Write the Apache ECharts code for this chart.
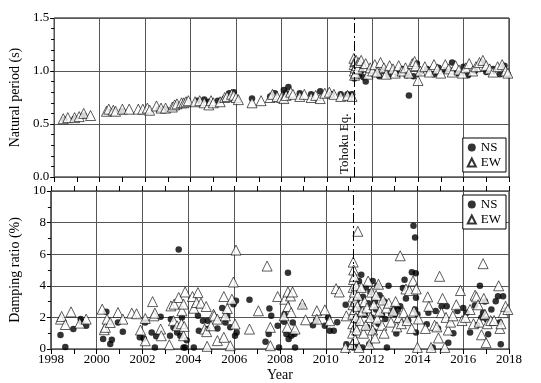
<!DOCTYPE html>
<html>
<head>
<meta charset="utf-8">
<script src="https://cdn.jsdelivr.net/npm/echarts@6/dist/echarts.min.js"></script>
<style>
  html, body { margin: 0; padding: 0; background: #fff; }
  #chart { width: 541px; height: 383px; }
</style>
</head>
<body>
<div id="chart"></div>
<script>
// x axis years and the earthquake marker
var yearTicks = [1998, 2000, 2002, 2004, 2006, 2008, 2010, 2012, 2014, 2016, 2018];
var quakeYear = 2011.2;

// natural period (s), NS direction [year, value]
var nsPeriod = [
  [1998.45,0.54],[1998.9,0.55],[1999.3,0.58],[2000.4,0.61],[2000.6,0.62],[2001.0,0.62],
  [2002.6,0.64],[2002.9,0.64],[2003.4,0.68],[2003.7,0.69],[2004.3,0.72],[2004.6,0.73],
  [2004.8,0.71],[2005.2,0.72],[2005.5,0.74],[2005.7,0.79],[2005.9,0.80],[2006.0,0.74],
  [2006.7,0.74],[2007.5,0.76],[2007.7,0.79],[2008.1,0.82],[2008.2,0.79],[2008.3,0.85],
  [2008.8,0.79],[2009.3,0.78],[2009.7,0.81],[2010.2,0.78],[2010.6,0.78],[2010.9,0.78],
  [2011.1,0.78],
  [2011.2,0.93],[2011.2,1.02],[2011.22,1.06],[2011.25,0.97],[2011.28,1.08],[2011.3,0.99],
  [2011.35,1.03],[2011.4,0.96],[2011.5,1.0],[2011.6,0.94],[2011.7,0.90],[2011.9,1.02],
  [2012.1,0.98],[2012.3,0.95],[2012.5,1.0],[2012.7,0.96],[2012.9,1.01],[2013.1,0.97],
  [2013.3,1.02],[2013.5,0.96],[2013.6,0.77],[2013.8,0.95],[2013.95,1.07],[2014.1,0.99],
  [2014.4,1.02],[2014.7,0.97],[2014.9,1.03],[2015.2,1.01],[2015.5,1.08],[2015.7,0.98],
  [2016.0,1.04],[2016.2,0.96],[2016.5,1.0],[2016.8,1.08],[2017.0,0.99],[2017.3,1.02],
  [2017.6,0.97],[2017.8,1.05],[2017.95,0.97]
];

// natural period (s), EW direction
var ewPeriod = [
  [1998.4,0.55],[1998.6,0.56],[1998.9,0.56],[1999.1,0.57],[1999.3,0.60],[1999.6,0.58],
  [2000.3,0.62],[2000.4,0.64],[2000.6,0.63],[2000.7,0.62],[2001.0,0.64],[2001.3,0.64],
  [2001.7,0.64],[2001.9,0.64],[2002.1,0.65],[2002.2,0.63],[2002.5,0.67],[2002.7,0.65],
  [2002.9,0.65],[2003.2,0.66],[2003.3,0.68],[2003.4,0.69],[2003.6,0.70],[2003.7,0.70],
  [2003.8,0.71],[2003.9,0.72],[2004.2,0.71],[2004.4,0.72],[2004.6,0.70],[2004.8,0.68],
  [2004.9,0.72],[2005.0,0.70],[2005.3,0.71],[2005.5,0.75],[2005.6,0.76],[2005.8,0.78],
  [2005.9,0.77],[2006.0,0.75],[2006.1,0.73],[2006.7,0.70],[2007.1,0.72],[2007.5,0.75],
  [2007.6,0.78],[2007.8,0.76],[2008.0,0.75],[2008.1,0.74],[2008.2,0.77],[2008.4,0.80],
  [2008.5,0.78],[2008.8,0.76],[2009.0,0.78],[2009.3,0.75],[2009.5,0.77],[2009.7,0.74],
  [2009.9,0.79],[2010.1,0.80],[2010.3,0.78],[2010.6,0.76],[2010.9,0.77],[2011.1,0.76],
  [2011.18,1.12],[2011.19,1.06],[2011.2,1.0],[2011.21,0.96],[2011.22,1.09],[2011.24,1.03],
  [2011.26,0.98],[2011.28,1.10],[2011.3,1.05],[2011.35,1.02],[2011.4,1.08],[2011.5,1.10],
  [2011.6,1.04],[2011.7,1.07],[2011.8,0.97],[2011.9,1.03],[2012.0,1.0],[2012.1,1.06],
  [2012.2,0.99],[2012.35,1.08],[2012.5,1.03],[2012.6,0.97],[2012.75,1.05],[2012.9,1.02],
  [2013.0,0.98],[2013.15,1.05],[2013.3,1.0],[2013.45,1.03],[2013.6,0.98],[2013.75,1.07],
  [2013.85,1.09],[2013.9,1.05],[2014.0,0.91],[2014.1,1.0],[2014.3,1.04],[2014.5,0.99],
  [2014.7,1.06],[2014.85,1.02],[2015.0,0.98],[2015.2,1.06],[2015.35,1.02],[2015.5,0.99],
  [2015.65,1.05],[2015.8,1.01],[2015.95,0.98],[2016.1,1.03],[2016.25,1.07],[2016.4,1.0],
  [2016.55,1.04],[2016.7,1.08],[2016.85,1.10],[2017.0,1.05],[2017.15,1.02],[2017.3,0.99],
  [2017.5,1.04],[2017.7,1.06],[2017.85,1.0],[2017.95,0.98]
];

// damping ratio (%), NS direction
var nsDamp = [
  [1998.42,0.88],[1998.63,0.12],[1998.98,1.26],[1999.3,1.9],[1999.33,1.72],[1999.54,1.47],
  [2000.28,0.63],[2000.42,2.35],[2000.59,0.32],[2000.66,0.59],[2000.93,1.68],[2001.14,1.09],
  [2001.88,0.74],[2002.05,0.67],[2002.12,1.68],[2002.4,1.05],[2002.54,0.1],[2002.6,0.8],
  [2002.79,2.04],[2003.2,0.84],[2003.24,1.89],[2003.35,1.37],[2003.51,1.05],[2003.58,6.3],
  [2003.65,0.84],[2003.72,2.0],[2003.79,0.1],[2003.86,0.1],[2003.93,0.55],[2004.24,0.1],
  [2004.42,2.1],[2004.46,1.15],[2004.64,1.79],[2004.82,1.26],[2004.85,1.79],[2005.27,1.3],
  [2005.48,2.6],[2005.62,1.68],[2005.7,2.1],[2005.83,1.37],[2005.97,2.84],[2006.04,0.84],
  [2006.08,3.05],[2006.11,1.05],[2006.67,3.11],[2007.37,0.46],[2007.51,0.95],[2007.54,2.56],
  [2007.62,2.1],[2007.9,1.47],[2007.96,0.1],[2008.18,1.72],[2008.2,2.2],[2008.28,0.95],
  [2008.35,4.83],[2008.38,0.63],[2008.49,0.84],[2008.56,1.68],[2008.63,0.95],[2008.66,0.1],
  [2008.98,2.73],[2009.44,1.51],[2009.58,1.79],[2009.96,1.47],[2010.1,2.0],[2010.17,1.16],
  [2010.35,1.16],[2010.5,1.7],[2010.87,2.8],[2010.9,0.3],
  [2011.2,0.1],[2011.22,2.8],[2011.25,1.3],[2011.28,3.6],[2011.3,2.1],[2011.33,0.2],
  [2011.36,3.1],[2011.4,1.7],[2011.45,4.3],[2011.5,2.5],[2011.55,4.7],[2011.6,0.1],
  [2011.62,3.3],[2011.7,2.2],[2011.75,3.9],[2011.8,1.4],[2011.85,2.9],[2011.9,0.3],
  [2011.95,3.6],[2012.0,2.0],[2012.05,4.3],[2012.1,1.1],[2012.15,3.0],[2012.2,2.5],
  [2012.25,4.0],[2012.3,1.6],[2012.35,3.4],[2012.45,2.2],[2012.55,3.0],[2012.6,1.9],
  [2012.67,0.1],[2012.74,4.0],[2012.85,2.3],[2012.96,2.6],[2013.03,2.2],[2013.08,0.98],
  [2013.15,2.5],[2013.25,2.7],[2013.37,3.86],[2013.44,4.38],[2013.5,3.2],[2013.6,1.8],
  [2013.76,4.85],[2013.83,7.8],[2013.9,7.05],[2013.93,4.8],[2013.9,2.5],[2013.94,3.24],
  [2013.94,1.04],[2014.0,2.2],[2014.41,1.57],[2014.48,2.3],[2014.67,0.1],[2014.8,2.4],
  [2014.9,1.3],[2015.06,2.7],[2015.28,2.7],[2015.35,0.4],[2015.57,1.0],[2015.75,2.4],
  [2016.0,2.6],[2016.15,2.3],[2016.3,1.04],[2016.51,2.75],[2016.6,1.5],[2016.73,4.0],
  [2016.8,2.0],[2016.87,2.3],[2016.95,3.0],[2017.02,1.88],[2017.09,0.94],[2017.23,2.5],
  [2017.42,3.03],[2017.52,3.34],[2017.59,1.67],[2017.64,0.3],[2017.74,3.34],[2017.88,2.46]
];

// damping ratio (%), EW direction
var ewDamp = [
  [1998.42,1.89],[1998.47,2.06],[1998.63,1.55],[1998.88,2.35],[1999.26,1.64],[1999.54,1.89],
  [2000.24,2.52],[2000.33,1.22],[2000.38,1.37],[2000.45,1.89],[2000.59,1.68],[2000.93,2.31],
  [2001.14,1.89],[2001.53,2.27],[2001.74,2.23],[2001.91,1.2],[2002.12,1.93],[2002.12,0.52],
  [2002.44,3.0],[2002.5,2.1],[2002.54,2.27],[2002.79,1.26],[2002.82,0.84],[2003.17,0.27],
  [2003.24,2.73],[2003.35,1.79],[2003.38,2.84],[2003.51,1.47],[2003.58,3.26],[2003.7,1.6],
  [2003.72,2.42],[2003.79,2.84],[2003.79,0.84],[2003.82,1.43],[2003.86,3.61],[2004.18,3.32],
  [2004.24,2.58],[2004.36,2.94],[2004.42,3.57],[2004.55,2.9],[2004.71,1.26],[2004.78,2.69],
  [2004.8,1.1],[2004.82,0.17],[2004.99,1.47],[2005.1,2.2],[2005.13,2.1],[2005.27,1.89],
  [2005.27,0.53],[2005.55,3.32],[2005.55,0.74],[2005.62,2.1],[2005.7,2.56],[2005.83,0.21],
  [2005.9,3.15],[2005.97,4.24],[2006.04,1.58],[2006.08,6.26],[2006.67,1.26],[2007.06,2.42],
  [2007.44,5.25],[2007.58,1.37],[2007.58,0.21],[2007.9,3.32],[2008.18,2.1],[2008.21,3.15],
  [2008.32,1.37],[2008.35,3.61],[2008.35,2.69],[2008.46,3.36],[2008.49,2.31],[2008.55,3.61],
  [2008.66,1.26],[2008.98,2.84],[2009.12,1.85],[2009.61,2.42],[2009.61,1.89],[2009.96,2.48],
  [2010.17,1.79],[2010.45,3.82],[2010.59,3.61],[2010.86,0.1],[2010.9,2.1],
  [2011.15,0.3],[2011.17,1.0],[2011.18,1.6],[2011.18,2.2],[2011.19,2.8],[2011.2,3.3],
  [2011.2,3.9],[2011.21,4.4],[2011.2,5.5],[2011.22,5.0],[2011.25,4.6],[2011.25,3.6],
  [2011.26,2.5],[2011.27,1.4],[2011.28,0.6],[2011.3,3.0],[2011.32,2.0],[2011.33,4.0],
  [2011.35,1.2],[2011.38,2.7],[2011.4,3.4],[2011.4,7.45],[2011.45,0.1],[2011.5,1.8],
  [2011.55,3.9],[2011.6,2.4],[2011.65,1.0],[2011.7,3.0],[2011.75,1.5],[2011.8,2.6],
  [2011.85,4.3],[2011.9,0.3],[2011.95,2.0],[2012.0,3.6],[2012.05,1.2],[2012.1,2.8],
  [2012.15,0.7],[2012.2,3.4],[2012.25,1.9],[2012.3,4.1],[2012.35,2.4],[2012.45,1.5],
  [2012.5,3.1],[2012.55,1.0],[2012.65,2.6],[2012.75,2.9],[2012.85,1.7],[2012.95,2.4],
  [2013.05,3.0],[2013.1,1.4],[2013.2,2.0],[2013.25,5.9],[2013.3,1.6],[2013.4,2.3],
  [2013.5,3.8],[2013.55,1.8],[2013.65,3.7],[2013.75,1.3],[2013.81,4.3],[2013.85,2.4],
  [2013.95,3.8],[2014.0,0.1],[2014.05,1.9],[2014.35,1.3],[2014.45,3.3],[2014.5,2.7],
  [2014.6,0.1],[2014.75,1.5],[2014.85,1.4],[2014.92,0.7],[2014.97,4.6],[2015.05,2.3],
  [2015.1,3.2],[2015.2,0.1],[2015.25,2.0],[2015.35,1.2],[2015.45,1.7],[2015.55,2.1],
  [2015.7,2.8],[2015.88,3.7],[2015.95,1.8],[2016.1,2.0],[2016.3,2.5],[2016.45,1.6],
  [2016.52,3.4],[2016.58,3.3],[2016.65,2.8],[2016.7,1.7],[2016.8,0.9],[2016.87,5.4],
  [2016.9,3.2],[2016.95,2.2],[2017.0,0.4],[2017.05,1.6],[2017.2,1.8],[2017.35,1.8],
  [2017.55,4.0],[2017.6,1.3],[2017.65,1.6],[2017.75,2.3],[2017.85,2.7],[2017.95,2.5]
];

var FONT = "'Liberation Serif', 'Times New Roman', serif";
var txt = { fontFamily: FONT, fontSize: 13, color: '#000' };
var nameTxt = { fontFamily: FONT, fontSize: 14, color: '#000' };

// common x axis bits
function xAx(grid, pos, showLabel) {
  return {
    type: 'value', gridIndex: grid, position: pos,
    min: yearTicks[0], max: yearTicks[yearTicks.length - 1], interval: 2,
    axisLine: { show: false },
    axisTick: { show: true, inside: false, length: 5, lineStyle: { color: '#000' } },
    minorTick: { show: true, splitNumber: 2, length: 5, lineStyle: { color: '#000' } },
    axisLabel: Object.assign({ show: showLabel, margin: 4, formatter: function (v) { return String(v); } }, txt),
    splitLine: { show: pos === 'bottom', lineStyle: { color: '#555', width: 1 } }
  };
}

var markQuake = function (withLabel) {
  return {
    silent: true, symbol: 'none', animation: false,
    lineStyle: { color: '#000', width: 1, type: [10, 3, 2, 3] },
    label: withLabel ? Object.assign({ show: true, formatter: 'Tohoku Eq.', position: 'insideStartTop', distance: 3 }, txt) : { show: false },
    data: [{ xAxis: quakeYear }]
  };
};

var dotStyle = { color: '#000' };
var triStyle = { color: '#fff', borderColor: '#000', borderWidth: 0.8 };

var legendBox = function (top) {
  return {
    data: [{ name: 'NS', icon: 'circle' }, { name: 'EW', icon: 'triangle' }],
    orient: 'vertical', right: 35, top: top, itemWidth: 8, itemHeight: 8, itemGap: 2,
    padding: [3, 5, 3, 4], borderColor: '#000', borderWidth: 1, backgroundColor: '#fff',
    textStyle: txt, selectedMode: false
  };
};

var option = {
  animation: false,
  backgroundColor: '#fff',
  grid: [
    { left: 49, right: 32, top: 18, height: 159, show: true, borderColor: '#000', borderWidth: 1, backgroundColor: 'transparent' },
    { left: 49, right: 32, top: 191, height: 159, show: true, borderColor: '#000', borderWidth: 1, backgroundColor: 'transparent' }
  ],
  legend: [legendBox(138), legendBox(195)],
  xAxis: [
    xAx(0, 'bottom', false),
    Object.assign(xAx(1, 'bottom', true), { name: 'Year', nameLocation: 'middle', nameGap: 19, nameTextStyle: nameTxt }),
    xAx(1, 'top', false)
  ],
  yAxis: [
    { type: 'value', gridIndex: 0, min: 0, max: 1.5, interval: 0.5,
      name: 'Natural period (s)', nameLocation: 'middle', nameGap: 25, nameTextStyle: nameTxt,
      axisLine: { show: false },
      axisTick: { show: true, length: 4, lineStyle: { color: '#000' } },
      minorTick: { show: true, splitNumber: 5, length: 3, lineStyle: { color: '#000' } },
      axisLabel: Object.assign({ margin: 5, formatter: function (v) { return v.toFixed(1); } }, txt),
      splitLine: { show: true, lineStyle: { color: '#555', width: 1 } } },
    { type: 'value', gridIndex: 1, min: 0, max: 10, interval: 2,
      name: 'Damping ratio (%)', nameLocation: 'middle', nameGap: 25, nameTextStyle: nameTxt,
      axisLine: { show: false },
      axisTick: { show: true, length: 4, lineStyle: { color: '#000' } },
      minorTick: { show: true, splitNumber: 2, length: 3, lineStyle: { color: '#000' } },
      axisLabel: Object.assign({ margin: 5 }, txt),
      splitLine: { show: true, lineStyle: { color: '#555', width: 1 } } }
  ],
  series: [
    { name: 'NS', type: 'scatter', xAxisIndex: 0, yAxisIndex: 0, data: nsPeriod,
      symbol: 'circle', symbolSize: 6.5, itemStyle: dotStyle, markLine: markQuake(true) },
    { name: 'EW', type: 'scatter', xAxisIndex: 0, yAxisIndex: 0, data: ewPeriod,
      symbol: 'triangle', symbolSize: 10, itemStyle: triStyle },
    { name: 'NS', type: 'scatter', xAxisIndex: 1, yAxisIndex: 1, data: nsDamp,
      symbol: 'circle', symbolSize: 6.5, itemStyle: dotStyle, markLine: markQuake(false) },
    { name: 'EW', type: 'scatter', xAxisIndex: 1, yAxisIndex: 1, data: ewDamp,
      symbol: 'triangle', symbolSize: 10, itemStyle: triStyle }
  ]
};

var myChart = echarts.init(document.getElementById('chart'));
myChart.setOption(option);
</script>
</body>
</html>
